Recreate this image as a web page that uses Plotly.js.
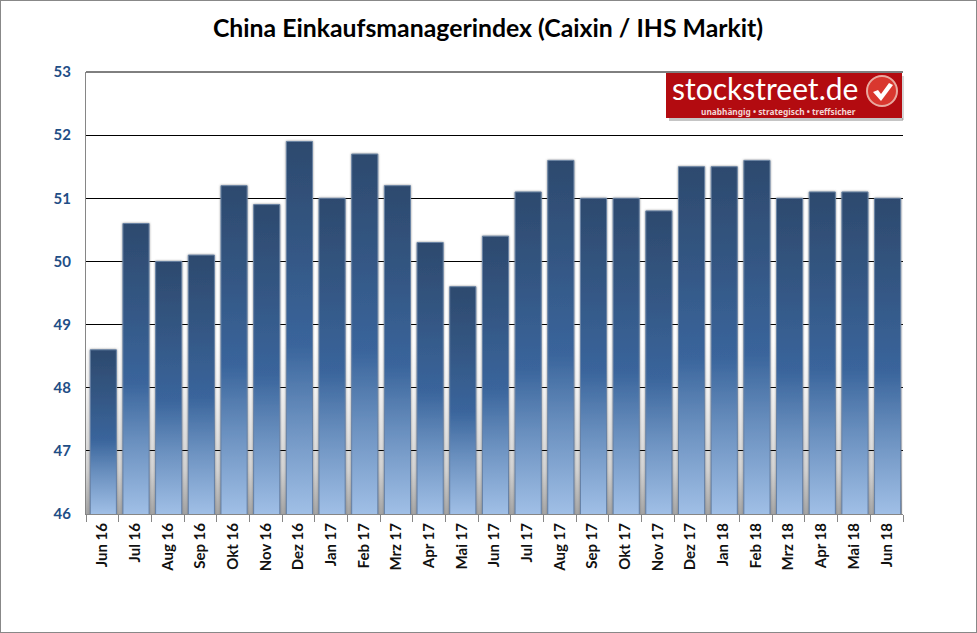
<!DOCTYPE html>
<html><head><meta charset="utf-8">
<script src="https://cdn.plot.ly/plotly-3.0.1.min.js"></script>
<style>html,body{margin:0;padding:0;background:#fff}
#c{position:absolute;left:0;top:0;width:977px;height:633px}
#b{position:absolute;left:0;top:0;width:977px;height:633px;box-sizing:border-box;border:1px solid #888;pointer-events:none}</style>
</head><body><div id="c"></div><div id="b"></div>
<script>
const months=["Jun 16","Jul 16","Aug 16","Sep 16","Okt 16","Nov 16","Dez 16","Jan 17","Feb 17","Mrz 17","Apr 17","Mai 17","Jun 17","Jul 17","Aug 17","Sep 17","Okt 17","Nov 17","Dez 17","Jan 18","Feb 18","Mrz 18","Apr 18","Mai 18","Jun 18"];
const pmi=[48.6,50.6,50.0,50.1,51.2,50.9,51.9,51.0,51.7,51.2,50.3,49.6,50.4,51.1,51.6,51.0,51.0,50.8,51.5,51.5,51.6,51.0,51.1,51.1,51.0];
const titleText="China Einkaufsmanagerindex (Caixin / IHS Markit)";
const L=86,R=903,T=72,B=514;
const px=x=>(x-L)/(R-L), py=y=>(B-y)/(B-T);
const font="Lato, Carlito, sans-serif";
function rect(x0,y0,x1,y1,fill){return {type:'rect',xref:'paper',yref:'paper',x0:px(x0),x1:px(x1),y0:py(y0),y1:py(y1),fillcolor:fill,line:{width:0},layer:'above'};}
const shapes=[
 {type:'rect',name:'gapshade',xref:'paper',yref:'paper',x0:0,x1:px(902),y0:0,y1:py(340),fillcolor:'#aaa',line:{width:0},layer:'below'},
 {type:'line',xref:'paper',yref:'paper',x0:0,x1:1,y0:1,y1:1,line:{color:'#000',width:1},layer:'below'},
 rect(669,118,903,121,'rgba(90,90,90,0.35)'),
 rect(902,76,904,120,'rgba(90,90,90,0.25)'),
 rect(666,73,902,118,'#b30b10'),
 {type:'circle',xref:'paper',yref:'paper',x0:px(867),x1:px(897),y0:py(76),y1:py(106),fillcolor:'#d9372f',line:{color:'#e9a9a0',width:2},layer:'above'},
 {type:'path',xref:'paper',yref:'paper',path:`M ${px(873)} ${py(92)} L ${px(878)} ${py(90)} L ${px(881)} ${py(94)} L ${px(889)} ${py(83)} L ${px(893)} ${py(85)} L ${px(881)} ${py(101)} Z`,fillcolor:'#fff',line:{width:0},layer:'above'}
];
const annotations=[
 {xref:'paper',yref:'paper',x:px(670),y:py(88.5),xanchor:'left',yanchor:'middle',showarrow:false,text:'stockstreet.de',font:{family:'Lato, sans-serif',size:30,color:'#fff'}},
 {xref:'paper',yref:'paper',x:px(858),y:py(111.5),xanchor:'right',yanchor:'middle',showarrow:false,text:'unabhängig • strategisch • treffsicher',font:{family:'"Noto Sans", sans-serif',size:8.3,color:'#f3d6d6',weight:700}}
];
Plotly.newPlot('c',[{type:'bar',x:months,y:pmi,width:0.8,offset:-0.37,marker:{color:'#3a6499',line:{width:0}},hoverinfo:'x+y'}],{
 width:977,height:633,paper_bgcolor:'#fff',plot_bgcolor:'#fff',showlegend:false,
 margin:{l:L,r:977-R,t:T,b:633-B,pad:0},
 title:{text:titleText,x:px(488),xanchor:'center',xref:'paper',y:0.956,yanchor:'middle',font:{family:font,size:24.8,color:'#000',weight:700}},
 xaxis:{type:'category',tickson:'boundaries',ticks:'outside',ticklen:7,tickcolor:'#868686',tickwidth:1,showline:true,linecolor:'#868686',linewidth:1,showgrid:false,tickangle:-90,tickfont:{family:font,size:15,color:'#111',weight:700},automargin:false,ticklabelstandoff:2},
 yaxis:{range:[46,53],dtick:1,tick0:46,ticks:'',showline:true,linecolor:'#868686',linewidth:1,showgrid:true,gridcolor:'#000',gridwidth:1,zeroline:false,tickfont:{family:font,size:15,color:'#1f4e86',weight:700},automargin:false,ticklabelstandoff:11},
 shapes,annotations
},{displayModeBar:false,responsive:false}).then(gd=>{
 const svg=gd.querySelector('svg.main-svg');
 const NS='http://www.w3.org/2000/svg';
 const H=B-T,W=R-L;
 const defs=document.createElementNS(NS,'defs');
 let html=`<filter id="bs" filterUnits="userSpaceOnUse" x="-10" y="-10" width="${W+20}" height="${H+20}"><feDropShadow dx="0" dy="0" stdDeviation="1.3" flood-color="#666" flood-opacity="0.7"/></filter>`;
 html+=`<linearGradient id="shade" x1="0" x2="0" y1="0" y2="1"><stop offset="0" stop-color="#fff"/><stop offset="0.3" stop-color="#f2f2f2"/><stop offset="0.75" stop-color="#d2d2d2"/><stop offset="1" stop-color="#a4a4a4"/></linearGradient>`;
 html+=`<linearGradient id="edge" gradientUnits="userSpaceOnUse" x1="0" x2="0" y1="0" y2="${H}"><stop offset="0" stop-color="#6d85a3"/><stop offset="1" stop-color="#6480a6"/></linearGradient>`;
 const bars=[...gd.querySelectorAll('.barlayer .point path')];
 bars.forEach((p,i)=>{
  const top=p.getBBox().y;
  html+=`<linearGradient id="bg${i}" gradientUnits="userSpaceOnUse" x1="0" x2="0" y1="${top}" y2="${H}"><stop offset="0" stop-color="#2d4a6e"/><stop offset="0.25" stop-color="#335581"/><stop offset="0.55" stop-color="#3a659c"/><stop offset="0.75" stop-color="#6a90bf"/><stop offset="1" stop-color="#a0bfe6"/></linearGradient>`;
 });
 defs.innerHTML=html;
 svg.insertBefore(defs,svg.firstChild);
 bars.forEach((p,i)=>{p.style.fill=`url(#bg${i})`;p.style.filter='url(#bs)';p.style.stroke='url(#edge)';p.style.strokeWidth='1px';p.style.strokeOpacity=1;});
 const s0=gd.querySelector('.layer-below .shapelayer path');
 if(s0) s0.style.fill='url(#shade)';
});
</script></body></html>
